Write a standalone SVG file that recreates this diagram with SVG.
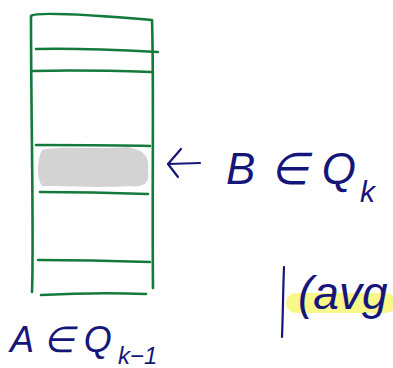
<svg xmlns="http://www.w3.org/2000/svg" width="393" height="368" viewBox="0 0 393 368">
<style>
.g{fill:none;stroke:#137a3c;stroke-width:2.6;stroke-linecap:round;stroke-linejoin:round}
.b{fill:none;stroke:#16167a;stroke-width:2.2;stroke-linecap:round;stroke-linejoin:round}
.t{fill:#16167a;font-family:"Liberation Sans",sans-serif;font-style:italic}
</style>
<rect width="393" height="368" fill="#fff"/>
<g id="stack">
<path class="g" d="M32,292 C34,240 31,120 31,16 C35,12 80,14 152,20 C154,80 152,200 153,288"/>
<path class="g" d="M36,49 C70,48 120,50 158,52"/>
<path class="g" d="M33,71 C70,70 120,71 152,72"/>
<path class="g" d="M36,145 C70,145 120,145 150,146"/>
<path class="g" d="M40,192 C80,192 120,193 148,194"/>
<path class="g" d="M38,260 C80,260 120,261 150,262"/>
<path class="g" d="M41,295 C80,293 120,293 146,294"/>
</g>
<g id="highlight-cell">
<path d="M42,150 C60,145 90,150 128,147 C140,150 150,153 148,170 C150,182 145,188 130,186 C100,188 60,186 42,186 C36,178 37,160 42,150 Z" fill="#d3d3d3"/>
</g>
<g id="connectors">
<path class="b" d="M168,164 L200,163"/>
<path class="b" d="M181,149 L168,164 L178,177"/>
</g>
<g id="label-B">
<text class="t" x="226" y="184" font-size="44" letter-spacing="1">B ∈ Q</text>
<text class="t" x="360" y="202" font-size="30">k</text>
</g>
<g id="label-A">
<text class="t" x="10" y="352" font-size="36">A ∈ Q</text>
<text class="t" x="118" y="364" font-size="24">k−1</text>
</g>
<g id="label-avg">
<rect x="286" y="293" width="110" height="20" rx="10" fill="#f7f78a"/>
<path class="b" d="M284,267 C283,290 283,315 282,337"/>
<text class="t" x="298" y="309" font-size="46">(avg</text>
</g>
</svg>
